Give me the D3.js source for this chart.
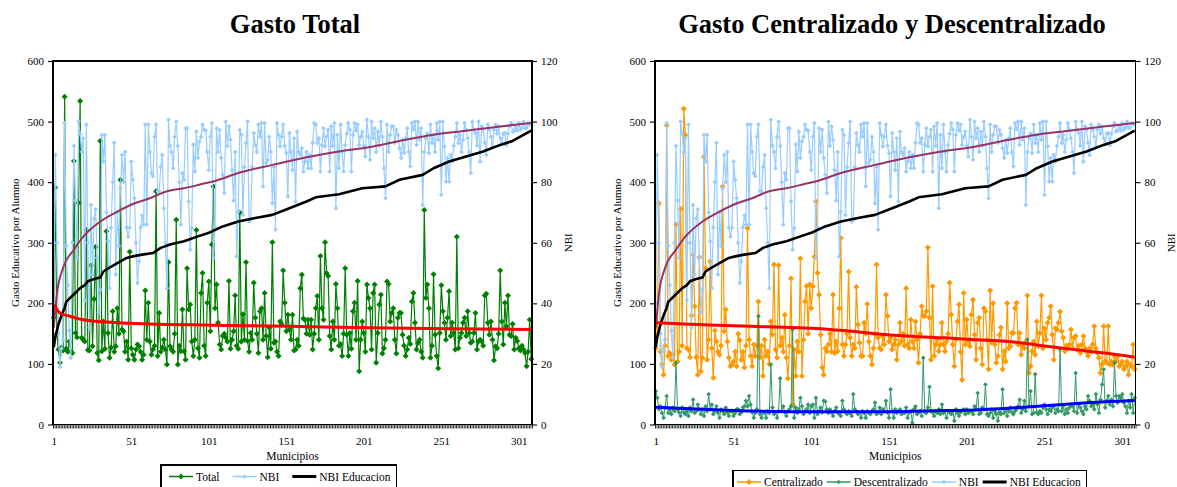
<!DOCTYPE html>
<html><head><meta charset="utf-8">
<script src="https://cdn.jsdelivr.net/npm/d3@7"></script>
<style>
body{margin:0;background:#fff;}
svg{display:block;}
text{font-family:"Liberation Serif","Times New Roman",serif;fill:#000;}
</style>
</head><body>
<svg id="chart" width="1177" height="487"></svg>
<script>
// ---------- DATA (municipalities 1..309) ----------
const xTickLabels = [1, 51, 101, 151, 201, 251, 301];
const leftTicks = [0, 100, 200, 300, 400, 500, 600];
const rightTicks = [0, 20, 40, 60, 80, 100, 120];

const gastoTotal = [
176,391,150,124,102,127,122,541,125,120,
137,121,118,435,151,144,366,534,143,140,
137,321,123,122,263,129,207,293,118,106,
468,121,170,125,319,151,110,127,187,120,
129,192,150,404,157,154,120,137,107,285,
126,115,107,124,132,129,120,107,115,221,
140,201,137,115,124,130,385,113,184,120,
127,140,124,99,268,129,124,120,150,338,
99,130,121,190,121,107,258,190,198,137,
113,140,321,126,110,217,250,130,113,201,
236,154,297,393,192,231,168,132,124,146,
150,143,137,237,125,140,154,213,130,125,
350,137,182,140,268,138,120,151,140,234,
176,150,118,187,192,140,217,146,111,160,
125,301,135,137,120,113,170,166,254,201,
154,181,157,140,181,122,124,140,130,225,
247,175,173,150,173,148,173,124,150,192,
212,140,278,192,173,301,250,245,146,124,
170,140,232,192,130,133,113,150,258,148,
113,151,125,187,201,140,237,88,140,170,
151,120,231,209,192,124,217,231,102,151,
198,214,117,126,140,236,232,170,184,192,
140,117,176,184,184,148,130,113,124,143,
133,203,217,168,124,135,140,120,110,354,
209,231,192,110,130,248,148,113,93,151,
230,187,168,140,176,220,146,168,151,124,
310,126,143,151,168,176,146,187,151,135,
137,151,184,124,137,140,137,130,213,216,
168,148,170,140,106,129,126,150,254,170,
132,201,162,213,148,146,166,124,143,138,
126,122,130,124,118,96,120,173,108];

const nbi = [
40,89,60,30,19,25,28,99.5,59,46,
31,22,60,92,74,55,100,96,90,94.5,
41,99,60,32,72.5,49.5,68,71,55,37,
44.5,95.6,86.8,95.6,70,60.5,45,65,80,93,
49.5,70,59,78,89,80,90,65,62,65,
86.8,80.8,74.7,60,46.7,53.9,65,69,66,99,
66,99,90,83,82,95,99,77,77,85,
89,71.4,60,45,100.6,92,90,84.6,95,100,
92,80,66,83,80.8,97.8,97.8,73.6,57.7,64.8,
92.5,83.5,96.7,88,93.4,95,99,97.3,97,90,
84,95,99.5,55,65,97.8,90,97.3,88,82.4,
76.4,100,92,98.4,94,84,73.9,90,55.5,70.3,
97.3,95.6,69.2,85,92.9,100,67,67.6,85,96.2,
92.3,90,99,95,99.5,78.6,99.5,86.3,87.4,95,
90,73,85,64.3,99.5,95.6,91.8,95,99,92,
89.6,75.3,96.2,90,84,94.5,73.6,96.7,90,89,
91.2,83.5,86.8,90,84.6,89,84.6,93,99.5,99,
92.9,94.5,83.5,92.3,97.8,91.8,95,97.3,83.5,98.4,
92,99.5,71.4,95.6,84.6,99,90,83.5,92.3,96,
99.5,97.3,83.5,95.6,99.5,97,99,92.3,95,96.7,
92,88.5,100.6,95,87.4,100,94.5,97.8,90,96.7,
92,100,95,84.6,74.7,99,90,95.6,98.4,98.4,
93,97.3,95.6,91.2,88,94,89.6,94.5,97.8,90,
85.2,99.5,97.3,100,92.3,100,94,97.8,72.5,90,
94.5,96,89.6,99,92.9,95.6,90,99.5,94,100,
75.8,100,91.8,80.2,88,80.2,89,86.8,92,95,
99.5,92.9,95.6,90,94,99.5,97.3,94.5,90,83,
100,97.3,96.2,92,100,86.8,98.4,97.3,93,89,
99,97.3,95,91.8,97.3,99,96,98.4,94.5,92.9,
96,96.2,92.3,96,98.4,99.5,96.7,97,98.4,97,
99.5,97.3,98,100,97.8,98,99.5,99,99.5];

const centralizado = [
126,160,365,120,100,82,130,494,113,118,
107,115,99,330,104,120,356,130,521,478,
126,124,111,180,280,195,111,82,276,88,
110,442,258,107,140,269,126,77,155,137,
120,115,130,393,154,190,137,110,96,99,
104,120,96,150,139,107,120,94,130,324,
140,113,96,132,113,130,203,111,130,80,
140,113,120,100,170,148,264,124,110,263,
130,143,120,181,110,76,130,241,33,124,
80,137,120,274,80,140,203,228,150,231,
192,228,277,368,250,214,148,94,82,126,
121,132,150,120,214,118,137,121,192,308,
132,113,132,150,252,143,113,132,126,227,
165,135,113,113,168,150,199,137,113,99,
126,150,264,143,126,124,146,132,214,179,
137,143,124,132,140,107,132,168,137,150,
130,225,132,126,173,137,126,170,140,102,
150,195,179,179,187,292,176,107,228,113,
132,140,121,132,168,132,121,137,150,234,
181,132,96,140,170,198,120,74,217,132,
173,137,129,181,206,148,107,168,176,126,
99,192,187,140,91,221,135,200,132,102,
113,148,160,91,121,104,200,126,129,151,
151,192,201,132,151,115,130,126,137,213,
85,96,121,137,115,170,129,151,213,126,
159,140,168,176,195,148,107,159,157,168,
186,154,143,121,130,126,132,157,126,143,
146,124,130,118,132,146,126,120,113,126,
120,132,162,126,118,110,85,99,162,104,
102,162,99,104,99,113,104,113,96,99,
104,91,96,104,82,99,96,132,91];

const descentralizado = [
55,44,25,30,19,11,28,47,19,25,
17,28,22,102,25,20,14,28,20,17,
22,14,28,22,41,19,22,33,25,17,
25,14,30,22,50,25,33,17,22,30,
19,11,25,22,17,28,20,14,22,22,
14,19,25,25,17,20,28,30,39,30,
47,33,20,11,19,25,179,17,11,20,
19,11,22,19,99,28,17,20,11,22,
76,22,30,20,14,22,25,30,157,11,
28,19,25,44,30,17,22,25,33,19,
30,33,11,44,17,22,28,20,39,38,
25,19,25,20,14,22,28,20,17,14,
39,25,20,17,22,19,14,50,25,22,
17,20,11,22,19,11,22,20,17,22,
25,36,17,20,28,17,25,22,39,20,
11,58,22,11,25,19,22,25,17,20,
19,28,11,20,22,3,25,30,17,20,
22,14,110,20,19,28,62,22,20,14,
22,19,25,17,33,19,22,11,22,20,
17,22,6,25,19,14,20,22,25,17,
25,19,22,22,17,30,25,52,17,19,
28,25,66,17,14,19,25,11,22,17,
6,20,17,58,19,25,14,22,28,20,
17,22,25,30,41,19,25,39,22,140,
30,55,17,19,83,20,17,22,19,28,
33,25,17,25,22,28,30,19,25,22,
124,22,30,17,25,19,28,33,30,22,
85,19,33,28,22,17,30,25,47,39,
30,33,25,50,33,19,41,66,91,28,
39,47,33,41,30,102,47,36,47,44,
50,36,30,19,39,28,50,19,44];

// NBI Educacion (line without markers) read at these municipalities
const nbiEduIdx = [1,2,4,6,8,9,12,15,18,21,23,27,31,33,36,42,48,52,57,65,70,76,85,94,102,110,120,131,142,153,164,170,185,200,215,224,239,246,256,267,278,289,297,304,309];
const nbiEduVal = [25.5,29,33,36,38.5,40.5,42,43.5,45,46,47.3,48,48.5,50.5,51.5,53.3,55,55.5,56,56.6,58.3,59.4,60.5,62.1,63.5,65.4,67,68.2,69.2,71.4,73.6,75,76,78,78.6,80.8,82.4,84.6,86.8,88.5,90.1,92.3,93.6,95.6,97];

// trend lines
const trendNbiIdx = [1,3,7,14,20,31,42,52,63,74,85,96,105,120,142,164,185,205,224,245,267,289,309];
const trendNbiVal = [32,43,51.7,57.7,62,67,70.3,72.8,74.7,77,78,79.3,80.4,83,85.7,88.2,90.1,91.6,93.6,95.6,97,98.4,99.5];
const trendTotalIdx = [1,5,11,20,42,63,104,153,206,256,309];
const trendTotalVal = [198,184,179,173,168,166,164,162,159.5,158,157];
const trendCentIdx = [1,19,40,62,83,104,122,144,165,187,207,226,247,269,290,309];
const trendCentVal = [168,166,164,162,160.5,158.5,155,149.5,145.7,143,140,137.4,131,124,118,111];
const trendDescIdx = [1,19,51,104,150,187,207,247,290,309];
const trendDescVal = [28.6,26.4,23.1,21,21,23,24,30.3,37.4,39.6];

// ---------- DRAWING ----------
const N = gastoTotal.length;
const svg = d3.select("#chart");
const FONT = '"Liberation Serif","Times New Roman",serif';

const C = {
  total: "#008000", nbi: "#99CCFF", edu: "#000000", cent: "#FF9900",
  desc: "#339966", red: "#FF0000", purple: "#993366", blue: "#0000FF"
};

function pairs(idx, val){ return idx.map((d,i)=>[d, val[i]]); }
function series(arr){ return arr.map((v,i)=>[i+1, v]); }

function drawPanel(p){
  const g = svg.append("g");
  const x = d3.scaleLinear().domain([0.5, N + 0.5]).range([p.x0, p.x1]);
  const yL = d3.scaleLinear().domain([0, 600]).range([p.y1, p.y0]);
  const yR = d3.scaleLinear().domain([0, 120]).range([p.y1, p.y0]);

  // title
  g.append("text").attr("x", p.titleX).attr("y", 33).attr("text-anchor", "middle")
    .style("font-size", "26.5px").style("font-weight", "bold").text(p.title);

  const plot = g.append("g");
  function drawLine(data, yS, color, width){
    plot.append("path").datum(data)
      .attr("fill", "none").attr("stroke", color).attr("stroke-width", width)
      .attr("stroke-linejoin", "round")
      .attr("d", d3.line().x(d=>x(d[0])).y(d=>yS(d[1])));
  }
  function drawTrend(data, yS, color, width){
    plot.append("path").datum(data)
      .attr("fill", "none").attr("stroke", color).attr("stroke-width", width)
      .attr("d", d3.line().curve(d3.curveMonotoneX).x(d=>x(d[0])).y(d=>yS(d[1])));
  }
  function drawMarkers(data, yS, color, size){
    const sym = d3.symbol().type(d3.symbolSquare).size(size)();
    plot.append("g").selectAll("path").data(data).join("path")
      .attr("d", sym).attr("fill", color)
      .attr("transform", d=>`translate(${x(d[0])},${yS(d[1])}) rotate(45)`);
  }

  p.primary.forEach(s=>{
    drawLine(series(s.values), yL, s.color, s.width);
    drawMarkers(series(s.values), yL, s.color, s.msize);
  });
  drawLine(series(nbi), yR, C.nbi, 1.2);
  drawMarkers(series(nbi), yR, C.nbi, 11);
  drawLine(pairs(nbiEduIdx, nbiEduVal), yR, C.edu, 2.6);
  drawTrend(pairs(trendNbiIdx, trendNbiVal), yR, C.purple, 2);
  p.trends.forEach(t=>drawTrend(pairs(t.idx, t.val), yL, t.color, 3));

  // plot border
  g.append("rect").attr("x", p.x0).attr("y", p.y0).attr("width", p.x1 - p.x0).attr("height", p.y1 - p.y0)
    .attr("fill", "none").attr("stroke", "#000").attr("stroke-width", 1.2).attr("shape-rendering", "crispEdges");

  // dense category ticks
  const boundaries = d3.range(0, N + 1).map(k=>k + 0.5);
  const axT = g.append("g").attr("transform", `translate(0,${p.y1})`)
    .call(d3.axisBottom(x).tickValues(boundaries).tickFormat("").tickSize(4));
  axT.select(".domain").remove();
  axT.selectAll("line").attr("stroke-width", 0.8);

  const axX = g.append("g").attr("transform", `translate(0,${p.y1})`)
    .call(d3.axisBottom(x).tickValues(xTickLabels).tickSize(0).tickPadding(13));
  axX.select(".domain").remove();
  axX.selectAll("text").style("font-family", FONT).style("font-size", "11px").attr("fill", "#000");

  const axL = g.append("g").attr("transform", `translate(${p.x0},0)`)
    .call(d3.axisLeft(yL).tickValues(leftTicks).tickSize(5).tickPadding(4));
  axL.select(".domain").remove();
  axL.selectAll("text").style("font-family", FONT).style("font-size", "11px").attr("fill", "#000");
  axL.selectAll("line").attr("stroke-width", 1.1);

  const axR = g.append("g").attr("transform", `translate(${p.x1},0)`)
    .call(d3.axisRight(yR).tickValues(rightTicks).tickSize(5).tickPadding(4));
  axR.select(".domain").remove();
  axR.selectAll("text").style("font-family", FONT).style("font-size", "11px").attr("fill", "#000");
  axR.selectAll("line").attr("stroke-width", 1.1);

  // axis titles
  g.append("text").attr("transform", `translate(${p.yTitleX},${(p.y0+p.y1)/2}) rotate(-90)`)
    .attr("dy", "0.35em").attr("text-anchor", "middle").style("font-size", "11px")
    .text("Gasto Educativo por Alumno");
  g.append("text").attr("transform", `translate(${p.x1 + 36},${(p.y0+p.y1)/2}) rotate(-90)`)
    .attr("dy", "0.35em").attr("text-anchor", "middle").style("font-size", "11px")
    .text("NBI");
  g.append("text").attr("x", (p.x0+p.x1)/2).attr("y", 460).attr("text-anchor", "middle")
    .style("font-size", "11.5px").text("Municipios");

  // legend
  const lg = g.append("g");
  const box = lg.append("rect").attr("x", p.legX).attr("y", p.legY).attr("height", 40)
    .attr("fill", "#fff").attr("stroke", "#000").attr("stroke-width", 1.2).attr("shape-rendering", "crispEdges");
  let cx = p.legX + p.legPad;
  const cy = p.legY + 11.5;
  p.legend.forEach(it=>{
    lg.append("line").attr("x1", cx).attr("x2", cx + 24).attr("y1", cy).attr("y2", cy)
      .attr("stroke", it.color).attr("stroke-width", it.width);
    if (it.msize) {
      lg.append("path").attr("d", d3.symbol().type(d3.symbolSquare).size(it.msize)())
        .attr("fill", it.color).attr("transform", `translate(${cx+12},${cy}) rotate(45)`);
    }
    const t = lg.append("text").attr("x", cx + 27).attr("y", cy + 4).style("font-size", "11.5px").text(it.label);
    cx += 27 + t.node().getComputedTextLength() + p.legGap;
  });
  box.attr("width", cx - p.legGap + 6 - p.legX);
}

drawPanel({
  x0: 53, x1: 532, y0: 61, y1: 424.5, titleX: 295, title: "Gasto Total", yTitleX: 15,
  primary: [{values: gastoTotal, color: C.total, width: 1.2, msize: 18}],
  trends: [{idx: trendTotalIdx, val: trendTotalVal, color: C.red}],
  legX: 161, legY: 465, legPad: 8, legGap: 13,
  legend: [
    {label: "Total", color: C.total, width: 1.5, msize: 18},
    {label: "NBI", color: C.nbi, width: 1.5, msize: 11},
    {label: "NBI Educacion", color: C.edu, width: 3}
  ]
});

drawPanel({
  x0: 655, x1: 1135.5, y0: 61, y1: 424.5, titleX: 892, title: "Gasto Centralizado y Descentralizado", yTitleX: 617,
  primary: [
    {values: centralizado, color: C.cent, width: 1.2, msize: 18},
    {values: descentralizado, color: C.desc, width: 1, msize: 11}
  ],
  trends: [
    {idx: trendCentIdx, val: trendCentVal, color: C.red},
    {idx: trendDescIdx, val: trendDescVal, color: C.blue}
  ],
  legX: 733, legY: 470.5, legPad: 4, legGap: 4,
  legend: [
    {label: "Centralizado", color: C.cent, width: 1.5, msize: 18},
    {label: "Descentralizado", color: C.desc, width: 1.5, msize: 11},
    {label: "NBI", color: C.nbi, width: 1.5, msize: 11},
    {label: "NBI Educacion", color: C.edu, width: 3}
  ]
});
</script>
</body></html>
